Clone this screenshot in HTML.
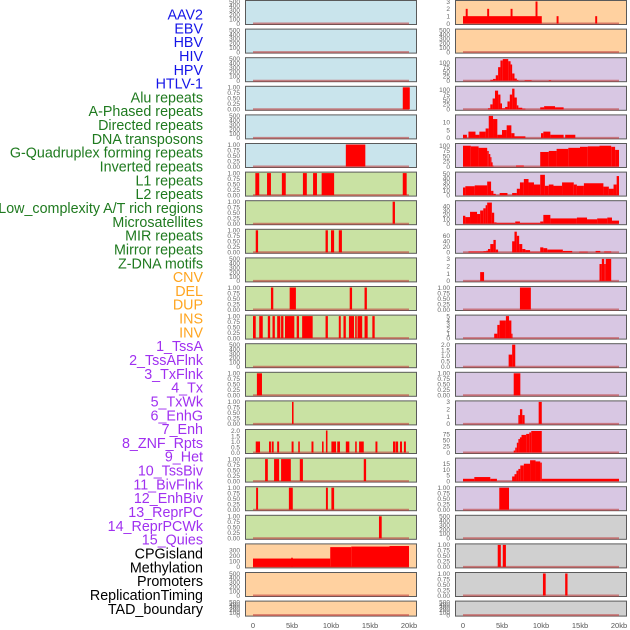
<!DOCTYPE html>
<html><head><meta charset="utf-8"><style>
html,body{margin:0;padding:0;background:#fff;width:630px;height:630px;overflow:hidden}
svg{display:block}
.lab{font-family:"Liberation Sans",sans-serif;font-size:14.3px}
.tk{font-family:"Liberation Sans",sans-serif;font-size:6.5px;fill:#666}
.ax{font-family:"Liberation Sans",sans-serif;font-size:7.5px;fill:#555}
</style></head><body>
<svg id="chart" width="630" height="630"></svg>
<script>
const labelNames=["AAV2","EBV","HBV","HIV","HPV","HTLV-1","Alu repeats","A-Phased repeats","Directed repeats","DNA transposons","G-Quadruplex forming repeats","Inverted repeats","L1 repeats","L2 repeats","Low_complexity A/T rich regions","Microsatellites","MIR repeats","Mirror repeats","Z-DNA motifs","CNV","DEL","DUP","INS","INV","1_TssA","2_TssAFlnk","3_TxFlnk","4_Tx","5_TxWk","6_EnhG","7_Enh","8_ZNF_Rpts","9_Het","10_TssBiv","11_BivFlnk","12_EnhBiv","13_ReprPC","14_ReprPCWk","15_Quies","CPGisland","Methylation","Promoters","ReplicationTiming","TAD_boundary"];
const labelColors=["#1515e8","#1515e8","#1515e8","#1515e8","#1515e8","#1515e8","#1f7a1f","#1f7a1f","#1f7a1f","#1f7a1f","#1f7a1f","#1f7a1f","#1f7a1f","#1f7a1f","#1f7a1f","#1f7a1f","#1f7a1f","#1f7a1f","#1f7a1f","#ffa520","#ffa520","#ffa520","#ffa520","#ffa520","#a030f0","#a030f0","#a030f0","#a030f0","#a030f0","#a030f0","#a030f0","#a030f0","#a030f0","#a030f0","#a030f0","#a030f0","#a030f0","#a030f0","#a030f0","#000","#000","#000","#000","#000"];
const xTicks=[0,5,10,15,20];
const xTickLabels=["0","5kb","10kb","15kb","20kb"];
const E=[0,100,200,300,400,500], U=[0,0.25,0.5,0.75,1];
const leftColors=["#c9e4ec","#c9e4ec","#c9e4ec","#c9e4ec","#c9e4ec","#c9e4ec","#c9e2a3","#c9e2a3","#c9e2a3","#c9e2a3","#c9e2a3","#c9e2a3","#c9e2a3","#c9e2a3","#c9e2a3","#c9e2a3","#c9e2a3","#c9e2a3","#c9e2a3","#ffd1a0","#ffd1a0","#ffd1a0"];
const rightColors=["#ffd1a0","#ffd1a0","#d8c7e3","#d8c7e3","#d8c7e3","#d8c7e3","#d8c7e3","#d8c7e3","#d8c7e3","#d8c7e3","#d8c7e3","#d8c7e3","#d8c7e3","#d8c7e3","#d8c7e3","#d8c7e3","#d8c7e3","#d8c7e3","#d0d0d0","#d0d0d0","#d0d0d0","#d0d0d0"];
const leftYmax=[500,500,500,1,500,1,1,1,1,500,1,1,500,1,1,2,1,1,1,395,500,500];
const rightYmax=[3,500,122,112,14,106,52,50,80,3,1,5,2,1,3,90,19,1,500,1,1,500];
const leftTicks=[E,E,E,U,E,U,U,U,U,E,U,U,E,U,U,[0,0.5,1,1.5,2],U,U,U,[0,100,200,300],E,E];
const rightTicks=[[0,1,2,3],E,[0,25,50,75,100],[0,25,50,75,100],[0,5,10],[0,25,50,75,100],[0,10,20,30,40,50],[0,10,20,30,40],[0,20,40,60],[0,1,2,3],U,[0,1,2,3,4,5],[0,0.5,1,1.5,2],U,[0,1,2,3],[0,25,50,75],[0,5,10,15],U,E,U,U,E];
const leftSegs=[
[],[],[],[[19.2,20.1,1]],[],[[11.9,14.4,1]],
[[0.3,0.8,1],[1.8,2.3,1],[3.7,4.2,1],[6.4,6.9,1],[7.7,8.2,1],[8.8,10.4,1],[19.2,19.7,1]],
[[17.9,18.2,1]],
[[0.35,0.65,1],[9.3,9.6,1],[10.0,10.4,1],[11.0,11.4,1]],
[],
[[2.3,2.6,1],[4.7,5.5,1],[12.4,12.7,1],[14.3,14.6,1]],
[[0,0.35,1],[0.8,1.25,1],[1.9,2.2,1],[2.5,2.8,1],[3.1,3.5,1],[3.6,3.9,1],[4.1,5.3,1],[5.6,5.9,1],[6.3,7.65,1],[9.3,9.6,1],[11.0,11.25,1],[11.6,11.9,1],[12.3,12.95,1],[13.1,13.3,1],[13.4,14.0,1],[14.3,14.7,1],[15.3,15.6,1]],
[],
[[0.5,1.15,1]],
[[5.0,5.2,1]],
[[0.35,0.9,1],[2.05,2.3,1],[2.4,2.65,1],[3.1,3.35,1],[4.95,5.2,1],[5.8,6.0,1],[7.5,7.75,1],[8.85,9.05,1],[9.35,9.55,2],[10.05,10.65,1],[10.8,11.15,1],[11.9,12.35,1],[13.1,13.3,1],[13.6,14.2,1],[15.7,15.95,1],[17.95,18.25,1],[18.3,18.6,1],[18.85,19.1,1],[19.35,19.6,1]],
[[1.55,1.9,1],[2.7,3.35,1],[3.6,4.85,1],[6.0,6.4,1],[14.2,14.5,1]],
[[0.4,0.65,1],[4.6,5.1,1],[9.35,9.6,1],[10.05,10.4,1]],
[[16.15,16.5,1]],
[[0,9.9,150],[4.9,5.1,165],[9.9,12.6,355],[12.6,17.5,365],[17.5,20,375]],
[],[]];
const rightSegs=[
[[0,10.1,1],[0.35,0.6,2],[3.1,3.35,2],[6.1,6.35,2],[9.3,9.55,3],[12.0,12.25,1],[16.95,17.2,1]],
[],
[[3.5,3.85,5],[3.85,4.2,10],[4.2,4.5,30],[4.5,4.8,75],[4.8,5.1,112],[5.1,5.8,120],[5.8,6.1,108],[6.1,6.3,90],[6.3,6.6,40],[6.6,6.9,12],[6.9,7.1,4],[7.9,8.8,3],[11.0,11.3,3]],
[[3.2,3.5,5],[3.5,3.8,25],[3.8,4.1,55],[4.1,4.5,95],[4.5,4.8,75],[4.8,5.0,30],[5.0,5.4,5],[5.4,5.7,12],[5.7,6.0,40],[6.0,6.3,75],[6.3,6.6,105],[6.6,6.9,60],[6.9,7.1,20],[7.1,7.6,8],[7.6,8.0,3],[9.9,10.4,10],[10.4,11.8,16],[11.8,12.9,10]],
[[0,0.5,2],[0.7,1.6,4],[1.6,2.1,2],[2.1,2.9,4],[2.9,3.3,6],[3.3,3.85,14],[3.85,4.4,12],[4.4,5.0,2],[5.0,5.6,5],[5.6,6.2,8],[6.2,6.6,3],[6.6,8.0,1],[10.0,10.3,3],[10.3,11.2,4],[11.2,12.9,2],[13.1,14.4,2]],
[[0,1,100],[1,2,97],[2,3.1,90],[3.1,3.3,75],[3.3,3.5,60],[3.5,3.65,45],[3.65,3.8,20],[3.8,3.9,5],[6.8,7.8,5],[9.9,11,70],[11,12,75],[12,13.5,85],[13.5,15,90],[15,16,95],[16,17.5,97],[17.5,19,100],[19,19.5,95],[19.5,20,80]],
[[0,0.3,18],[0.3,1.5,21],[1.5,3.1,23],[3.1,3.6,32],[3.6,3.9,10],[3.9,4.2,3],[4.7,5.7,5],[6.3,6.9,5],[6.9,7.3,15],[7.3,7.8,30],[7.8,8.4,38],[8.4,9.1,30],[9.1,9.9,25],[9.9,10.5,48],[10.5,11.0,22],[11.0,11.6,25],[11.6,12.7,22],[12.7,14.2,30],[14.2,14.6,25],[14.6,15.5,22],[15.5,18.0,28],[18.0,18.7,20],[18.7,19.3,15],[19.3,19.7,25],[19.7,20,45]],
[[0,0.3,18],[0.3,0.9,15],[0.9,1.8,27],[1.8,2.2,22],[2.2,2.6,30],[2.6,2.9,35],[2.9,3.1,42],[3.1,3.7,48],[3.7,4.0,25],[4.0,4.3,3],[4.3,6.7,2],[6.7,7.3,5],[7.3,9.9,2],[9.9,10.3,5],[10.3,11.2,20],[11.2,14.6,12],[14.6,15.9,14],[15.9,17.2,10],[17.2,18.5,12],[18.5,19.1,14],[19.1,20,7]],
[[0.7,2.6,3],[2.6,3.0,4],[3.0,3.2,6],[3.2,3.5,12],[3.5,3.9,30],[3.9,4.2,45],[4.2,4.5,10],[6.3,6.6,40],[6.6,6.9,75],[6.9,7.2,60],[7.2,7.6,30],[7.6,8.0,12],[8.0,8.6,8],[8.6,9.9,2],[9.9,10.3,18],[10.3,10.8,15],[10.8,12.8,10],[12.8,14.0,5],[14.9,16.0,2],[17.0,17.6,5],[18.1,19.0,3]],
[[2.2,2.7,1.2],[17.5,17.8,2.3],[17.8,18.1,3],[18.1,18.3,2.3],[18.3,19.0,3]],
[[7.3,8.7,1]],
[[4.0,4.4,1],[4.4,4.7,3],[4.7,5.5,4],[5.5,5.9,5],[5.9,6.2,4],[6.2,6.35,1]],
[[5.85,6.3,1.1],[6.3,6.7,2]],
[[6.5,7.35,1]],
[[7.1,7.3,1.2],[7.3,7.6,2],[7.6,7.9,1.2],[9.7,10.1,3]],
[[6.5,6.7,8],[6.7,6.9,20],[6.9,7.1,40],[7.1,7.3,55],[7.3,7.5,62],[7.5,8.1,72],[8.1,8.5,76],[8.5,8.75,82],[8.75,10.1,88]],
[[0,1.45,2],[1.45,3.5,3.5],[3.5,4.35,2],[6.3,6.6,4],[6.6,6.85,6],[6.85,7.1,9],[7.1,7.35,10.5],[7.35,7.8,13.5],[7.8,8.6,15],[8.6,9.3,18],[9.3,9.9,17],[9.9,10.1,16],[10.1,20,2]],
[[4.65,5.9,1]],
[],
[[4.45,4.85,1],[5.1,5.5,1]],
[[10.25,10.6,1],[13.1,13.4,1]],
[]];

const NS="http://www.w3.org/2000/svg";
const svg=document.getElementById('chart');
function mk(tag,attrs,parent){const e=document.createElementNS(NS,tag);for(const k in attrs)e.setAttribute(k,attrs[k]);(parent||svg).appendChild(e);return e;}
function rowTop(i){return 28.6*i;}
function rowH(i){return i===21?16:25;}
function fmt(v,ticks){const dec=ticks.some(t=>t%1!==0);if(!dec)return String(v);const two=ticks.some(t=>(t*100)%10!==0);return v.toFixed(two?2:1);}

labelNames.forEach((n,i)=>{
  const t=mk('text',{x:203,y:19.5+i*13.82,'text-anchor':'end',class:'lab',fill:labelColors[i]});
  
  
  t.textContent=n;
});

function drawPanel(col,i,color,ymax,ticks,segs){
  const px=col===0?245:455, pw=171;
  const x0=col===0?253:463, kbW=7.8;
  const xs=kb=>x0+kb*kbW;
  const top=rowTop(i), h=rowH(i);
  const base=top+h-1.5, ph=h-3;
  const ys=v=>base-Math.min(v,ymax)/ymax*ph;
  const g=mk('g',{});
  
  
  mk('rect',{x:px+0.5,y:top+0.5,width:pw,height:h-1,fill:color,stroke:'#5a5a5a','stroke-width':1},g);
  mk('line',{x1:xs(0),x2:xs(20),y1:base,y2:base,stroke:'#c04040','stroke-opacity':0.6,'stroke-width':2},g);
  segs.forEach(s=>{
    const r=mk('rect',{x:xs(s[0]),y:ys(s[2]),width:Math.max(0.8,xs(s[1])-xs(s[0])),height:base-ys(s[2]),fill:'#ff0000'},g);
    
    
  });
  ticks.forEach(v=>{
    const t=mk('text',{x:px-5,y:ys(v)+2.3,'text-anchor':'end',class:'tk'},g);
    
    
    t.textContent=fmt(v,ticks);
  });
}
for(let i=0;i<22;i++){
  drawPanel(0,i,leftColors[i],leftYmax[i],leftTicks[i],leftSegs[i]);
  drawPanel(1,i,rightColors[i],rightYmax[i],rightTicks[i],rightSegs[i]);
}
[253,463].forEach(x0=>{
  xTicks.forEach((k,j)=>{
    const t=mk('text',{x:x0+k*7.8,y:628,'text-anchor':'middle',class:'ax'});
    
    
    t.textContent=xTickLabels[j];
  });
});
</script>
</body></html>
